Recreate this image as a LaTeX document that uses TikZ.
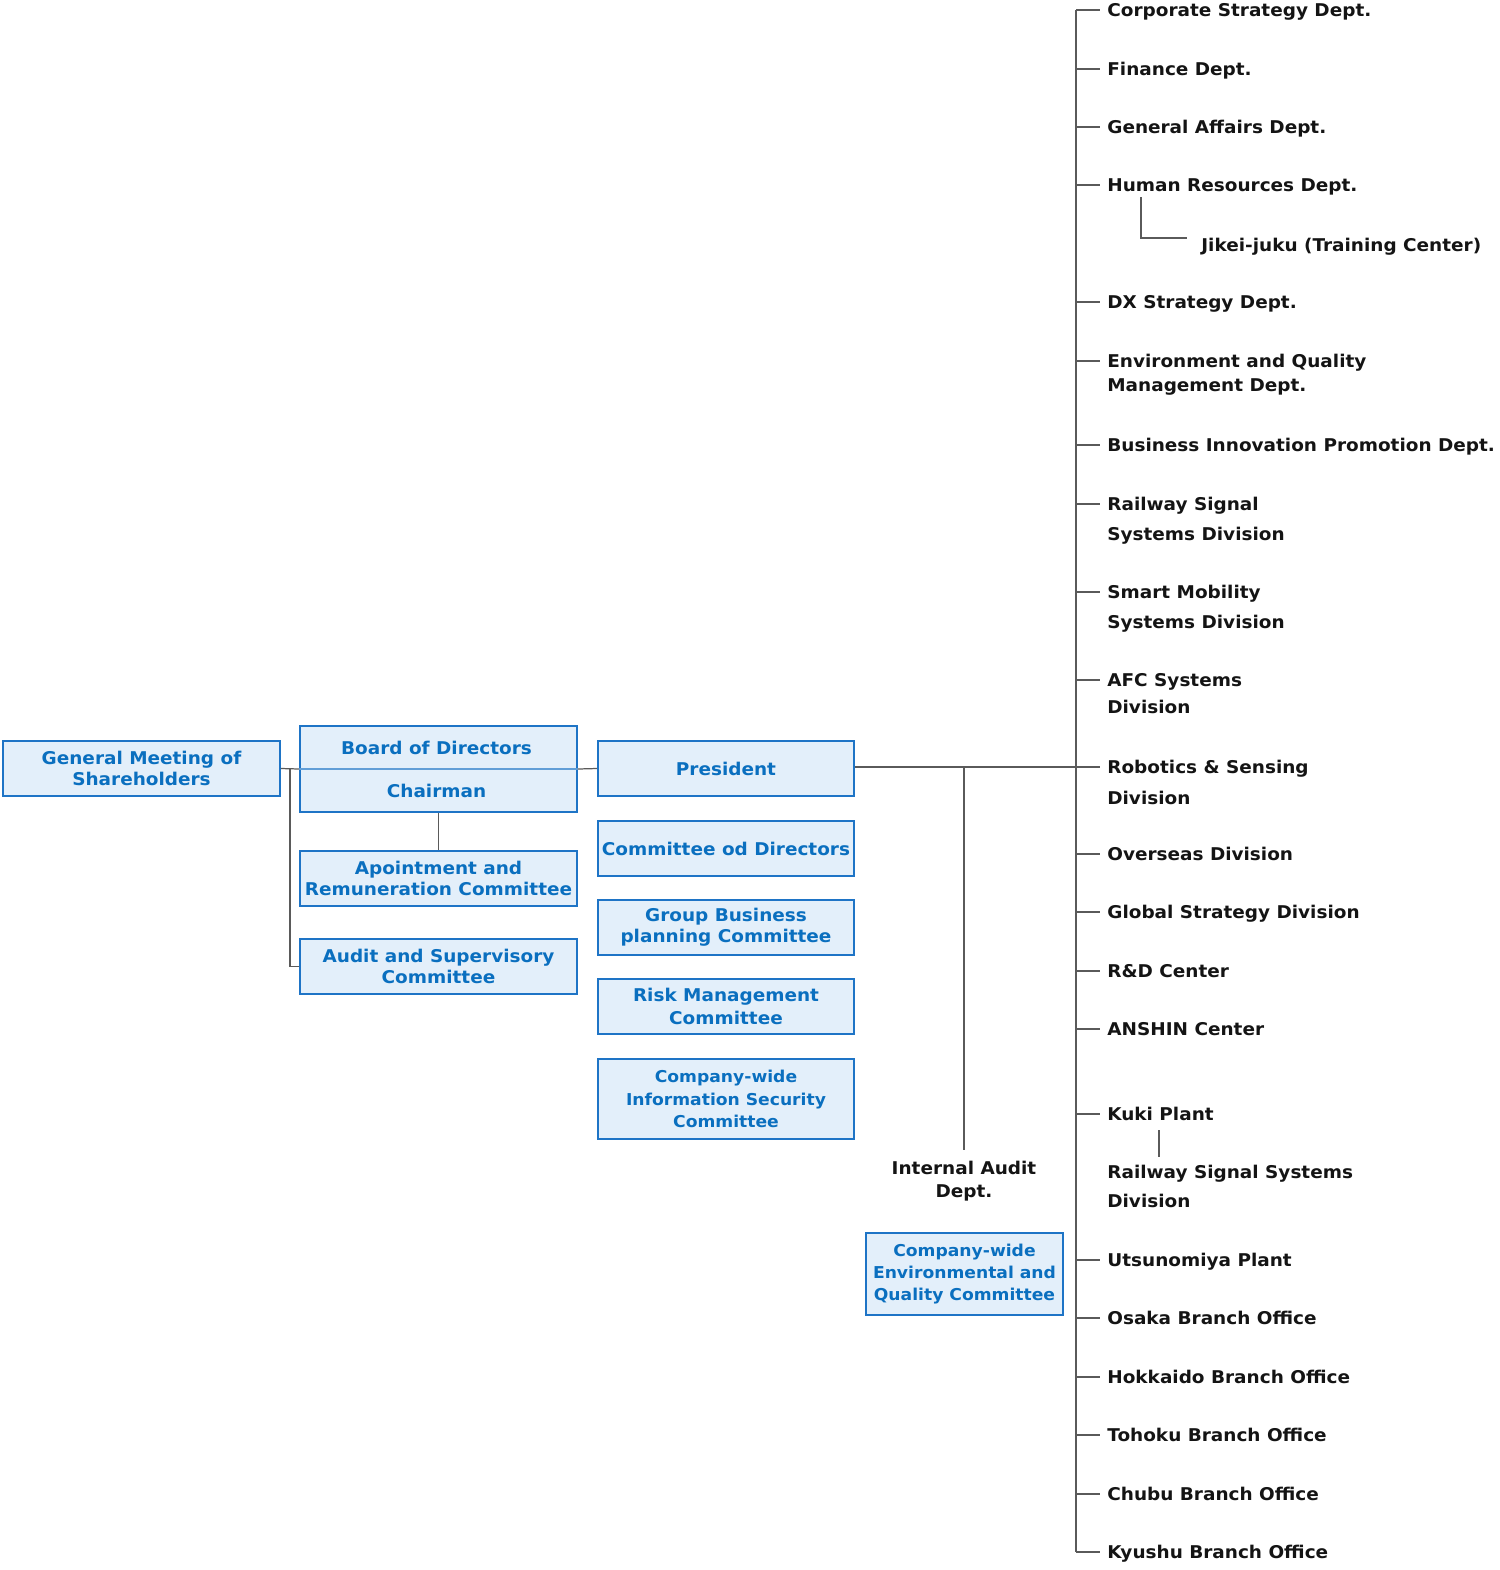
\documentclass[tikz,border=0pt]{standalone}
\usepackage{fontspec}
\setmainfont{DejaVu Sans}[FakeStretch=1.05]
\usepackage{tikz}
\usetikzlibrary{calc}
\usepackage{xcolor}
\definecolor{boxfill}{RGB}{227,239,250}
\definecolor{boxline}{RGB}{30,116,198}
\definecolor{boxtext}{RGB}{10,111,191}
\definecolor{linkgray}{RGB}{90,90,90}
\definecolor{ink}{RGB}{20,20,20}
\newdimen\pxu
\pxu=0.02cm

\tikzset{
    box/.style={draw=boxline, line width=1.1pt, fill=boxfill, text=boxtext,
        font=\bfseries\fontsize{10}{11.9}\selectfont, align=center,
        inner sep=0pt, minimum width=276\pxu, minimum height=55\pxu},
    smallbox/.style={box, font=\bfseries\fontsize{9.3}{12.6}\selectfont},
    unit/.style={text=ink, font=\bfseries\fontsize{10}{13.4}\selectfont,
        align=left, inner sep=0pt, anchor=north west},
    link/.style={draw=linkgray, line width=0.7pt},
}

\begin{document}
\begin{tikzpicture}[x=0.02cm, y=-0.02cm]
    \useasboundingbox (0,0) rectangle (1500,1570);

    % shareholders and board
    \node[box, minimum width=277\pxu] (gms) at (141.5,768.5) {General Meeting of\\Shareholders};
    \node[box, minimum width=277\pxu, minimum height=86\pxu] (bod) at (438.5,769) {};
    \draw[boxline!70, line width=0.6pt] (bod.west) -- (bod.east);
    \node[text=boxtext, font=\bfseries\fontsize{10}{11.9}\selectfont] (brd) at (436.5,747.5) {Board of Directors};
    \node[text=boxtext, font=\bfseries\fontsize{10}{11.9}\selectfont] (chr) at (436.5,791) {Chairman};
    \node[box, minimum width=277\pxu] (arc) at (438.5,878.5) {Apointment and\\Remuneration Committee};
    \node[box, minimum width=277\pxu] (asc) at (438.5,966.5) {Audit and Supervisory\\Committee};
    \coordinate (gj) at (290,769);
    \draw[link] (gms.east) -- (bod.west);
    \draw[link] (gj) |- (asc.west);
    \draw[link] (bod.south) -- (arc.north);

    % president and committees
    \node[box, minimum width=256\pxu] (pres) at (726,768.5) {President};
    \node[box, minimum width=256\pxu] (cod) at (726,848.5) {Committee od Directors};
    \node[box, minimum width=256\pxu] (gbp) at (726,927.5) {Group Business\\planning Committee};
    \node[box, minimum width=256\pxu, font=\bfseries\fontsize{10}{13.4}\selectfont] (rmc) at (726,1006.5) {Risk Management\\Committee};
    \node[smallbox, minimum width=256\pxu, minimum height=80\pxu] (cis) at (726,1099) {Company-wide\\Information Security\\Committee};
    \draw[link] (bod.east) -- (pres.west);

    % internal audit
    \coordinate (ia) at (964,767);
    \node[text=ink, font=\bfseries\fontsize{10}{13}\selectfont, align=center, inner sep=0pt, anchor=north] (iad) at (964,1161) {Internal Audit\\Dept.};
    \draw[link] (ia) -- ([yshift=11\pxu]iad.north);
    \node[smallbox, minimum width=197\pxu, minimum height=82\pxu] (ceq) at (964.5,1274) {Company-wide\\Environmental and\\Quality Committee};

    % departments
    \foreach \n/\y/\txt in {
        1/10/Corporate Strategy Dept.,
        2/69/Finance Dept.,
        3/127/General Affairs Dept.,
        4/185/Human Resources Dept.,
        5/302/DX Strategy Dept.,
        6/361/Environment and Quality\\Management Dept.,
        7/445/Business Innovation Promotion Dept.,
        8/504/Railway Signal\\[3.6pt]Systems Division,
        9/592/Smart Mobility\\[3.6pt]Systems Division,
        10/680/AFC Systems\\[2pt]Division,
        11/767/Robotics \& Sensing\\[4pt]Division,
        12/854/Overseas Division,
        13/912/Global Strategy Division,
        14/971/R\&D Center,
        15/1029/ANSHIN Center,
        16/1114/Kuki Plant,
        17/1260/Utsunomiya Plant,
        18/1318/Osaka Branch Office,
        19/1377/Hokkaido Branch Office,
        20/1435/Tohoku Branch Office,
        21/1494/Chubu Branch Office,
        22/1552/Kyushu Branch Office}{
        \node[unit] (d\n) at (1107,\y-7) {\txt};
        \coordinate (k\n) at (1076,\y);
        \draw[link] (k\n) -- (1100,\y);
    }
    \draw[link] (k1) -- (k22);
    \draw[link] (pres.east |- k11) -- (k11);

    % sub units
    \node[unit] (jkj) at (1201,237.5) {Jikei-juku (Training Center)};
    \coordinate (hrj) at (1141,197);
    \coordinate (jkc) at (1187,238);
    \draw[link] (hrj) |- (jkc);
    \node[unit] (rss) at (1107,1165) {Railway Signal Systems\\[3pt]Division};
    \coordinate (kk1) at (1159,1130);
    \coordinate (kk2) at (1159,1157);
    \draw[link] (kk1) -- (kk2);
\end{tikzpicture}
\end{document}
